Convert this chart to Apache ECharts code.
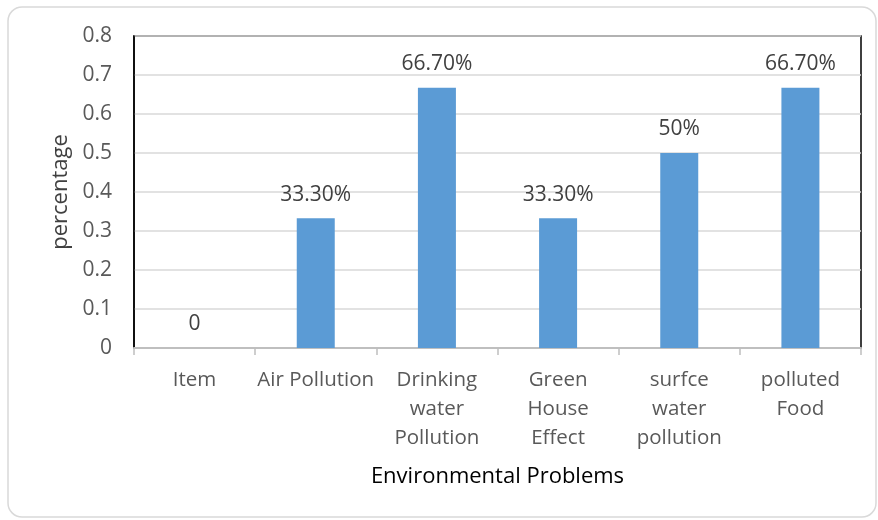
<!DOCTYPE html>
<html>
<head>
<meta charset="UTF-8">
<title>Environmental Problems</title>
<script src="https://cdn.jsdelivr.net/npm/echarts@6/dist/echarts.min.js"></script>
<style>
  html, body { margin: 0; padding: 0; background: #fff; }
</style>
</head>
<body>
	<div id="container" style="width:878px;height:520px;"></div>
	<script type="text/javascript">
	// categories and values
	var categories = ['Item', 'Air Pollution', 'Drinking\nwater\nPollution', 'Green\nHouse\nEffect', 'surfce\nwater\npollution', 'polluted\nFood'];
	var values = [0, 0.333, 0.667, 0.333, 0.5, 0.667];
	var valueLabels = ['0', '33.30%', '66.70%', '33.30%', '50%', '66.70%'];
	var yTicks = [0, 0.1, 0.2, 0.3, 0.4, 0.5, 0.6, 0.7, 0.8];

	var font = '"Open Sans", "DejaVu Sans", sans-serif';
	var myChart = echarts.init(document.getElementById('container'));

	var option = {
		animation: false,
		textStyle: { fontFamily: font },
		graphic: [
			{
				type: 'rect',
				shape: { x: 8, y: 7, width: 868, height: 510, r: 14 },
				style: { fill: 'none', stroke: '#d9d9d9', lineWidth: 1.5 },
				z: -1
			}
		],
		grid: {
			left: 134,
			right: 17,
			top: 36,
			bottom: 172,
			show: true,
			borderColor: '#000',
			borderWidth: 1.5
		},
		xAxis: {
			type: 'category',
			data: categories,
			name: 'Environmental Problems',
			nameLocation: 'middle',
			nameGap: 118,
			nameTextStyle: { color: '#000', fontSize: 22, fontFamily: font },
			axisLine: { lineStyle: { color: '#bfbfbf', width: 2 } },
			axisTick: { show: true, length: 7, lineStyle: { color: '#bfbfbf', width: 1.5 } },
			axisLabel: {
				color: '#595959',
				fontSize: 20.5,
				lineHeight: 29,
				margin: 18,
				interval: 0,
				fontFamily: font
			}
		},
		yAxis: {
			type: 'value',
			min: yTicks[0],
			max: yTicks[yTicks.length - 1],
			interval: 0.1,
			name: 'percentage',
			nameLocation: 'middle',
			nameGap: 60,
			nameRotate: 90,
			nameTextStyle: { color: '#404040', fontSize: 22, fontFamily: font },
			axisLine: { show: true, lineStyle: { color: '#000', width: 1.5 } },
			axisTick: { show: false },
			axisLabel: {
				color: '#595959',
				fontSize: 21,
				margin: 22,
				fontFamily: font,
				formatter: function (v) { return Math.round(v * 10) / 10 + ''; }
			},
			splitLine: { lineStyle: { color: '#d9d9d9', width: 1.5 } }
		},
		series: [
			{
				type: 'bar',
				data: values,
				barWidth: 38,
				itemStyle: { color: '#5b9bd5' },
				label: {
					show: true,
					position: 'top',
					distance: 13,
					color: '#404040',
					fontSize: 21,
					fontFamily: font,
					formatter: function (p) { return valueLabels[p.dataIndex]; }
				}
			}
		]
	};

	myChart.setOption(option);
    </script>
</body>
</html>
